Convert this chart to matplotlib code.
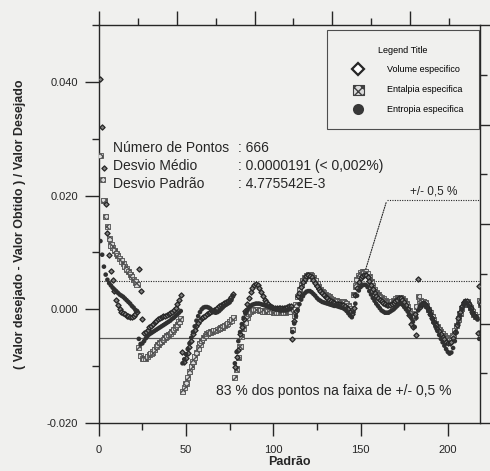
import numpy as np
import matplotlib
matplotlib.use('Agg')
import matplotlib.pyplot as plt
from matplotlib.lines import Line2D
from matplotlib.ticker import MultipleLocator, FormatStrFormatter

plt.rcParams['font.family'] = ['Liberation Sans', 'DejaVu Sans']

# padrão nº 1..222, desvios relativos (unidades de 1e-3)
padrao = np.arange(1, 223)

volume = [
    40.5, 32.0, 24.9, 18.5, 13.5, 9.5, 6.8, 5.2, 3.3, 1.7, 0.8, 0.0, -0.4, -0.7, -0.9, -1.1, -1.2, -1.3, -1.3, -1.1, -0.8, -0.5,
    7.0, 3.2, -1.7, -4.1, -4.0, -3.6, -3.2, -2.9, -2.6, -2.3, -2.0, -1.7, -1.5, -1.3, -1.2, -1.1, -1.0, -0.9, -0.7, -0.4, -0.1, 0.3, 0.9, 1.6, 2.6,
    -7.5, -9.3, -8.5, -7.6, -6.7, -5.6, -4.3, -3.6, -2.9, -2.4, -1.9, -1.6, -1.3, -1.1, -0.9, -0.7, -0.5, -0.3, -0.1, 0.1, 0.3, 0.5, 0.7, 0.9, 1.1, 1.3, 1.5, 1.8, 2.2, 2.7,
    -10.1, -8.4, -7.2, -4.3, -3.2, -1.7, -0.3, 0.9, 2.0, 3.0, 3.8, 4.3, 4.4, 4.2, 3.7, 3.0, 2.3, 1.7, 1.2, 0.9, 0.6, 0.4, 0.3, 0.2, 0.2, 0.2, 0.2, 0.2, 0.3, 0.3, 0.4, 0.5, 0.6,
    -5.2, -2.0, -0.3, 2.3, 2.9, 4.0, 4.8, 5.4, 5.8, 6.0, 5.9, 5.6, 5.1, 4.6, 4.1, 3.6, 3.2, 2.8, 2.5, 2.2, 1.9, 1.6, 1.4, 1.2, 1.1, 1.0, 0.9, 0.9, 0.8, 0.7, 0.5, 0.3, 0.0, -0.4, -0.8,
    0.3, 2.6, 3.8, 4.8, 5.5, 5.9, 6.1, 6.0, 5.6, 5.0, 4.2, 3.5, 2.9, 2.4, 2.0, 1.7, 1.4, 1.1, 0.9, 0.8, 0.8, 0.8, 0.9, 1.1, 1.4, 1.7, 1.9, 1.9, 1.7, 1.3, 0.7, 0.0, -1.0, -2.6, -3.1,
    -0.9, -4.6, 5.3, 0.4, 0.9, 1.1, 1.0, 0.4, -0.2, -0.9, -1.5, -2.2, -2.8, -3.4, -3.9, -4.4, -4.9, -5.3, -5.7, -5.9, -6.0, -5.7, -5.0, -4.0, -2.8, -1.6, -0.4, 0.6, 1.2, 1.5, 1.4, 0.9, 0.2, -0.5, -1.0, -1.4, -4.1, 4.1, 0.9, -0.3, -1.0, -1.4,
]

entalpia = [
    27.0, 22.8, 19.1, 16.3, 14.6, 12.5, 11.3, 10.8, 10.3, 9.8, 9.4, 8.9, 8.5, 8.0, 7.5, 7.1, 6.6, 6.1, 5.7, 5.2, 4.8, 4.4,
    -6.7, -8.1, -8.6, -8.7, -8.6, -8.3, -8.0, -7.8, -7.5, -7.1, -6.6, -6.2, -5.9, -5.6, -5.3, -5.0, -4.7, -4.5, -4.3, -3.9, -3.5, -3.1, -2.7, -2.2, -1.6,
    -14.5, -13.8, -13.0, -12.0, -11.0, -10.1, -9.2, -8.4, -7.6, -6.8, -6.1, -5.5, -5.0, -4.6, -4.3, -4.1, -4.0, -3.9, -3.8, -3.7, -3.5, -3.4, -3.2, -3.1, -2.9, -2.7, -2.5, -2.2, -1.9, -1.4,
    -12.0, -10.5, -8.5, -6.5, -4.8, -3.4, -2.3, -1.4, -0.8, -0.4, -0.2, -0.1, -0.1, -0.1, -0.2, -0.2, -0.3, -0.3, -0.3, -0.4, -0.4, -0.4, -0.5, -0.5, -0.5, -0.5, -0.5, -0.5, -0.5, -0.5, -0.4, -0.4, -0.3,
    -3.5, -1.0, 0.8, 2.3, 3.4, 4.3, 5.0, 5.6, 6.0, 6.1, 6.1, 5.9, 5.5, 5.0, 4.5, 4.0, 3.5, 3.1, 2.9, 2.6, 2.4, 2.2, 1.9, 1.7, 1.6, 1.5, 1.4, 1.4, 1.4, 1.4, 1.2, 1.0, 0.7, 0.2, -0.3,
    2.6, 4.1, 5.2, 5.9, 6.4, 6.6, 6.7, 6.7, 6.3, 5.7, 4.9, 4.1, 3.4, 2.9, 2.6, 2.3, 2.1, 1.8, 1.5, 1.3, 1.2, 1.2, 1.3, 1.5, 1.8, 2.0, 2.1, 2.0, 1.8, 1.5, 1.0, 0.4, -0.2, -0.8, -1.4,
    -1.0, 0.5, 2.3, 1.6, 1.3, 1.3, 1.2, 0.6, 0.0, -0.6, -1.3, -1.9, -2.5, -3.0, -3.5, -3.9, -4.3, -4.7, -5.0, -5.2, -5.3, -5.1, -4.6, -3.8, -2.8, -1.7, -0.7, 0.2, 0.9, 1.3, 1.3, 0.9, 0.3, -0.4, -0.9, -1.2, -1.3, 1.5, 0.8, 0.2, -0.4, -0.8,
]

entropia = [
    12.0, 9.6, 7.5, 6.1, 5.2, 4.6, 4.2, 3.8, 3.5, 3.2, 2.9, 2.6, 2.4, 2.2, 1.9, 1.6, 1.3, 1.0, 0.6, 0.3, -0.1, -0.3,
    -5.2, -6.1, -6.0, -5.6, -5.1, -4.7, -4.4, -4.2, -4.0, -3.8, -3.6, -3.4, -3.2, -3.0, -2.8, -2.6, -2.4, -2.2, -2.0, -1.7, -1.5, -1.2, -0.9, -0.6, -0.3,
    -9.5, -8.8, -7.9, -7.0, -6.0, -5.0, -4.0, -3.0, -2.0, -1.2, -0.5, 0.0, 0.3, 0.4, 0.4, 0.3, 0.1, -0.2, -0.5, -0.6, -0.5, -0.3, 0.0, 0.3, 0.6, 0.8, 1.0, 1.2, 1.6, 2.3,
    -9.5, -7.5, -5.6, -4.0, -2.6, -1.5, -0.7, -0.1, 0.3, 0.6, 0.8, 0.9, 1.0, 1.0, 1.0, 0.9, 0.8, 0.7, 0.6, 0.5, 0.4, 0.3, 0.2, 0.1, 0.0, -0.1, -0.2, -0.2, -0.2, -0.2, -0.1, 0.0, 0.1,
    -4.0, -2.5, -1.2, -0.1, 0.9, 1.7, 2.3, 2.8, 3.1, 3.2, 3.2, 3.0, 2.7, 2.4, 2.0, 1.7, 1.5, 1.3, 1.2, 1.1, 1.0, 0.9, 0.8, 0.7, 0.6, 0.6, 0.5, 0.4, 0.3, 0.2, 0.0, -0.3, -0.7, -1.1, -1.4,
    -0.5, 1.0, 2.4, 3.3, 3.9, 4.2, 4.3, 4.3, 3.9, 3.2, 2.6, 2.0, 1.5, 1.0, 0.6, 0.2, -0.2, -0.4, -0.6, -0.6, -0.6, -0.4, -0.2, 0.0, 0.3, 0.6, 0.9, 1.0, 0.8, 0.4, 0.0, -0.4, -0.9, -1.5, -2.2,
    -3.1, -1.5, -0.2, 0.5, 0.9, 1.0, 0.8, 0.3, -0.3, -1.0, -1.7, -2.4, -3.1, -3.8, -4.5, -5.2, -5.8, -6.4, -7.0, -7.5, -7.8, -7.6, -6.8, -5.6, -4.1, -2.5, -1.1, 0.0, 0.8, 1.2, 1.1, 0.6, 0.0, -0.6, -1.1, -1.5, -1.8, -5.2, -4.0, -2.6, -1.5, -0.6,
]

faixa = 0.005
n_pontos = 666
desvio_medio = '0.0000191 (< 0,002%)'
desvio_padrao = '4.775542E-3'

bg = '#f0f0ee'
ink = '#262626'

fig = plt.figure(figsize=(4.9, 4.71), dpi=100, facecolor=bg)
ax = fig.add_axes([0.2014, 0.1019, 0.7792, 0.8450])
ax.set_facecolor(bg)

ax.scatter(padrao, np.array(entalpia) * 1e-3, s=14, marker='s', facecolor='#dcdcdc',
           edgecolor='#505050', linewidth=0.6, hatch='xxxxx', zorder=3)
ax.scatter(padrao, np.array(volume) * 1e-3, s=7, marker='D', facecolor='#808080',
           edgecolor=ink, linewidth=0.9, zorder=4)
ax.scatter(padrao, np.array(entropia) * 1e-3, s=11, marker='o', facecolor='#303030',
           edgecolor='none', zorder=5)

ax.axhline(faixa, color=ink, lw=0.8, ls=(0, (1, 1.2)), zorder=2)
ax.axhline(-faixa, color='#555555', lw=0.9, zorder=2)

ax.set_xlim(0, 218.7)
ax.set_ylim(-0.020, 0.050)
ax.xaxis.set_major_locator(MultipleLocator(50))
ax.xaxis.set_minor_locator(MultipleLocator(25))
ax.yaxis.set_major_locator(MultipleLocator(0.02))
ax.yaxis.set_minor_locator(MultipleLocator(0.01))
ax.yaxis.set_major_formatter(FormatStrFormatter('%.3f'))
ax.tick_params(which='both', direction='out', width=1, color=ink, labelcolor=ink, labelsize=8, pad=5)
ax.tick_params(axis='y', which='major', length=10)
ax.tick_params(axis='x', which='major', length=9, pad=7)
ax.tick_params(which='minor', length=5)
for sp in ax.spines.values():
    sp.set_color(ink)
    sp.set_linewidth(1.0)

# eixos opostos (escala própria, só marcas)
ax_top = ax.twiny()
ax_top.set_xlim(0, 245)
ax_top.xaxis.set_major_locator(MultipleLocator(50))
ax_top.xaxis.set_minor_locator(MultipleLocator(25))
ax_top.tick_params(which='both', direction='out', width=1, color=ink, labeltop=False)
ax_top.tick_params(which='major', length=10)
ax_top.tick_params(which='minor', length=5)
ax_r = ax.twinx()
ax_r.set_ylim(0, 8)
ax_r.yaxis.set_major_locator(MultipleLocator(2))
ax_r.yaxis.set_minor_locator(MultipleLocator(1))
ax_r.tick_params(which='both', direction='out', width=1, color=ink, labelright=False)
ax_r.tick_params(which='major', length=8)
ax_r.tick_params(which='minor', length=5)
for a in (ax_top, ax_r):
    for sp in a.spines.values():
        sp.set_visible(False)

ax.set_xlabel('Padrão', fontsize=9, fontweight='bold', color=ink)
ax.xaxis.set_label_coords(0.5, -0.083)
ax.set_ylabel('( Valor desejado - Valor Obtido ) / Valor Desejado', fontsize=9,
              fontweight='bold', color=ink)
ax.yaxis.set_label_coords(-0.19, 0.5)

linhas = [('Número de Pontos', ': %d' % n_pontos),
          ('Desvio Médio', ': ' + desvio_medio),
          ('Desvio Padrão', ': ' + desvio_padrao)]
for (rot, val), yy in zip(linhas, [0.02837, 0.02520, 0.02204]):
    ax.text(8.2, yy, rot, fontsize=10, va='center', color=ink)
    ax.text(80.0, yy, val, fontsize=10, va='center', color=ink)

ax.text(192.0, 0.02063, '+/- 0,5 %', fontsize=8.5, ha='center', va='center', color=ink)
ax.plot([165.1, 218.7], [0.01922, 0.01922], color=ink, lw=0.8, ls=(0, (1, 1.2)))
ax.annotate('', xy=(152.5, 0.0066), xytext=(165.1, 0.01922),
            arrowprops=dict(arrowstyle='-', color=ink, lw=0.8, ls=(0, (1, 1.2))))
ax.text(134.8, -0.01437, '83 % dos pontos na faixa de +/- 0,5 %', fontsize=10,
        ha='center', va='center', color=ink)

# legenda com marcadores maiores que os do gráfico
h_vol = Line2D([], [], ls='none', marker='D', ms=6.5, mfc='white', mec=ink, mew=1.6)
h_ent = ax.scatter([], [], s=55, marker='s', facecolor='#dcdcdc', edgecolor='#404040',
                   linewidth=0.8, hatch='xxxx')
h_sen = Line2D([], [], ls='none', marker='o', ms=8, mfc='#383838', mec='none')
leg = ax.legend([h_vol, h_ent, h_sen],
                ['Volume especifico', 'Entalpia especifica', 'Entropia especifica'],
                title='Legend Title', loc='upper right', bbox_to_anchor=(0.996, 0.987),
                borderaxespad=0, fontsize=6.5, title_fontsize=6.5, frameon=True,
                fancybox=False, borderpad=1.7, handlelength=3.6, handletextpad=1.4,
                labelspacing=1.2, scatterpoints=1)
leg.get_frame().set_edgecolor(ink)
leg.get_frame().set_linewidth(0.8)
leg.get_frame().set_facecolor(bg)
leg.set_zorder(10)

fig.savefig('out.png', dpi=100, facecolor=bg)
